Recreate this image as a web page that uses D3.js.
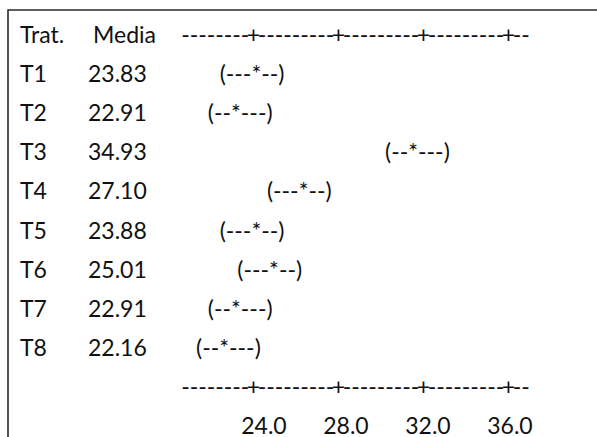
<!DOCTYPE html>
<html>
<head>
<meta charset="utf-8">
<script src="https://cdn.jsdelivr.net/npm/d3@7"></script>
<style>
  html, body { margin: 0; padding: 0; background: #fff; }
  svg text { font-family: Lato, "Open Sans", sans-serif; font-size: 23px; fill: #111; }
</style>
</head>
<body>
<div id="chart"></div>
<script>
// ---- data ----
const headerLabels = ["Trat.", "Media"];
const treatments = ["T1", "T2", "T3", "T4", "T5", "T6", "T7", "T8"];
const means = [23.83, 22.91, 34.93, 27.10, 23.88, 25.01, 22.91, 22.16];
const ciHalfWidth = 1.4;              // estimated half-width of the intervals
const tickValues = [24, 28, 32, 36];
const tickLabels = ["24.0", "28.0", "32.0", "36.0"];
const axisStart = 20.8;               // value at first character of the text axis
const colStep = 0.4;                  // value per character column
const nCols = 41;

// ---- layout ----
const W = 597, H = 437;
const svg = d3.select("#chart").append("svg").attr("width", W).attr("height", H);

// frame (top and left rule)
svg.append("path")
  .attr("d", `M8,${H} L8,10 L${W},10`)
  .attr("fill", "none").attr("stroke", "#2a2a2a").attr("stroke-width", 1.6);

// vertical rows
const rowKeys = ["header", ...treatments, "axis", "labels"];
const y = d3.scalePoint().domain(rowKeys).range([35, 426]);
const base = k => y(k) + 8;

// value scale for the text axis
const x = d3.scaleLinear().domain([24, 36]).range([253.5, 508.5]);
// character-column scale for the interval rows
const colX = d3.scaleLinear().domain([0, 32]).range([196, 385]);
// label scale
const labelX = d3.scaleLinear().domain([24, 36]).range([264, 510]);

const col = v => Math.round((v - axisStart) / colStep);

// header
svg.append("text").attr("x", 20).attr("y", base("header")).text(headerLabels[0]);
svg.append("text").attr("x", 93).attr("y", base("header")).text(headerLabels[1]);

// text axes (top and bottom), one character per column
function drawAxis(rowKey) {
  const tickCols = new Set(tickValues.map(col));
  const g = svg.append("g");
  d3.range(nCols).forEach(c => {
    const v = axisStart + c * colStep;
    g.append("text")
      .attr("x", x(v))
      .attr("y", base(rowKey))
      .attr("text-anchor", "middle")
      .text(tickCols.has(c) ? "+" : "-");
  });
}
drawAxis("header");
drawAxis("axis");

// rows
treatments.forEach((t, i) => {
  const m = means[i];
  const lo = col(m - ciHalfWidth), mc = col(m), hi = col(m + ciHalfWidth);
  const s = "(" + "-".repeat(mc - lo - 1) + "*" + "-".repeat(hi - mc - 1) + ")";
  svg.append("text").attr("x", 20).attr("y", base(t)).text(t);
  svg.append("text").attr("x", 88).attr("y", base(t)).text(m.toFixed(2));
  svg.append("text").attr("x", colX(lo)).attr("y", base(t)).text(s);
});

// tick labels
tickValues.forEach((v, i) => {
  svg.append("text")
    .attr("x", labelX(v))
    .attr("y", base("labels"))
    .attr("text-anchor", "middle")
    .text(tickLabels[i]);
});
</script>
</body>
</html>
